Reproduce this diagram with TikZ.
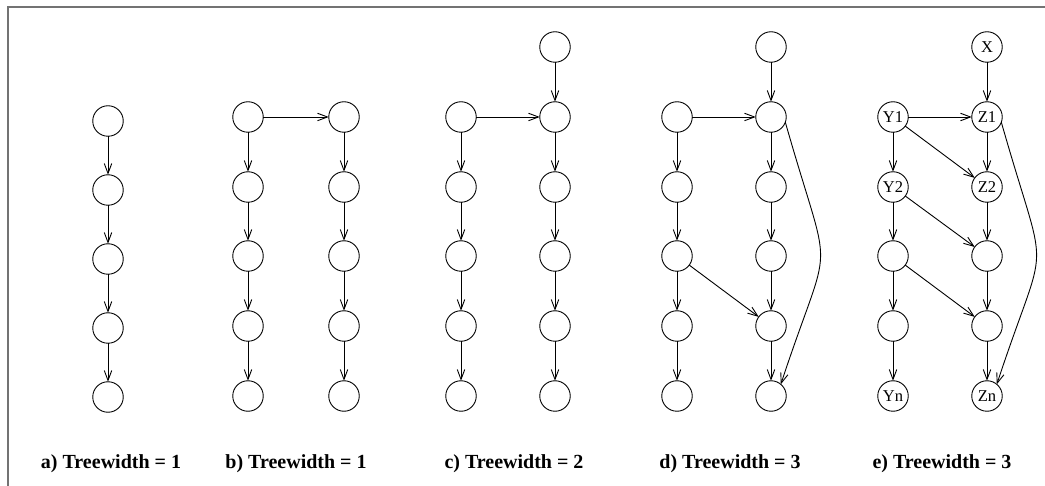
\documentclass[tikz,border=0pt]{standalone}
\usepackage{fontspec}
\setmainfont{Liberation Serif}
\usetikzlibrary{arrows.meta}

\tikzset{
	vertex/.style={draw,circle,inner sep=0,outer sep=0,minimum size=30.5pt,line width=0.9pt,font=\fontsize{16.5}{17}\selectfont},
	arc/.style={-{Straight Barb[length=10pt,width=7.5pt]},line width=0.9pt},
	caption/.style={anchor=base,font=\fontsize{20}{22}\selectfont\bfseries}
}

\begin{document}
\begin{tikzpicture}[x=1pt,y=-1pt]
	\useasboundingbox (0,0) rectangle (1045,486);
	\draw[line width=2pt,black!55] (1045,7) -- (8,7) -- (8,486);
	% a) a single path
	\node[vertex] (a1) at (108,121) {};
	\node[vertex] (a2) at (108,190) {};
	\node[vertex] (a3) at (108,259) {};
	\node[vertex] (a4) at (108,328) {};
	\node[vertex] (a5) at (108,397) {};
	% b) two paths
	\node[vertex] (b1) at (248,117) {};
	\node[vertex] (b2) at (248,187) {};
	\node[vertex] (b3) at (248,256) {};
	\node[vertex] (b4) at (248,326) {};
	\node[vertex] (b5) at (248,396) {};
	\node[vertex] (b6) at (344,117) {};
	\node[vertex] (b7) at (344,187) {};
	\node[vertex] (b8) at (344,256) {};
	\node[vertex] (b9) at (344,326) {};
	\node[vertex] (b10) at (344,396) {};
	% c)
	\node[vertex] (c1) at (461,117) {};
	\node[vertex] (c2) at (461,187) {};
	\node[vertex] (c3) at (461,256) {};
	\node[vertex] (c4) at (461,326) {};
	\node[vertex] (c5) at (461,396) {};
	\node[vertex] (c6) at (555,47) {};
	\node[vertex] (c7) at (555,117) {};
	\node[vertex] (c8) at (555,187) {};
	\node[vertex] (c9) at (555,256) {};
	\node[vertex] (c10) at (555,326) {};
	\node[vertex] (c11) at (555,396) {};
	% d)
	\node[vertex] (d1) at (677,117) {};
	\node[vertex] (d2) at (677,187) {};
	\node[vertex] (d3) at (677,256) {};
	\node[vertex] (d4) at (677,326) {};
	\node[vertex] (d5) at (677,396) {};
	\node[vertex] (d6) at (771,47) {};
	\node[vertex] (d7) at (771,117) {};
	\node[vertex] (d8) at (771,187) {};
	\node[vertex] (d9) at (771,256) {};
	\node[vertex] (d10) at (771,326) {};
	\node[vertex] (d11) at (771,396) {};
	% e) labelled
	\node[vertex] (e1) at (893,117) {Y1};
	\node[vertex] (e2) at (893,187) {Y2};
	\node[vertex] (e3) at (893,256) {};
	\node[vertex] (e4) at (893,326) {};
	\node[vertex] (e5) at (893,396) {Yn};
	\node[vertex] (e6) at (987,47) {X};
	\node[vertex] (e7) at (987,117) {Z1};
	\node[vertex] (e8) at (987,187) {Z2};
	\node[vertex] (e9) at (987,256) {};
	\node[vertex] (e10) at (987,326) {};
	\node[vertex] (e11) at (987,396) {Zn};
	\foreach \u/\v in {a1/a2,a2/a3,a3/a4,a4/a5,
		b1/b2,b2/b3,b3/b4,b4/b5,b6/b7,b7/b8,b8/b9,b9/b10,b1/b6,
		c1/c2,c2/c3,c3/c4,c4/c5,c6/c7,c7/c8,c8/c9,c9/c10,c10/c11,c1/c7,
		d1/d2,d2/d3,d3/d4,d4/d5,d6/d7,d7/d8,d8/d9,d9/d10,d10/d11,d1/d7,d3/d10,
		e1/e2,e2/e3,e3/e4,e4/e5,e6/e7,e7/e8,e8/e9,e9/e10,e10/e11,e1/e7,e1/e8,e2/e9,e3/e10}
		\draw[arc] (\u) -- (\v);
	\draw[arc] (d7.-20) .. controls (833,290) and (833,226) .. (d11.50);
	\draw[arc] (e7.-20) .. controls (1049,290) and (1049,226) .. (e11.50);
	% captions
	\node[caption] (capa) at (111,468) {a) Treewidth = 1};
	\node[caption] (capb) at (296,468) {b) Treewidth = 1};
	\node[caption] (capc) at (514,468) {c) Treewidth = 2};
	\node[caption] (capd) at (730,468) {d) Treewidth = 3};
	\node[caption] (cape) at (942,468) {e) Treewidth = 3};
\end{tikzpicture}
\end{document}
